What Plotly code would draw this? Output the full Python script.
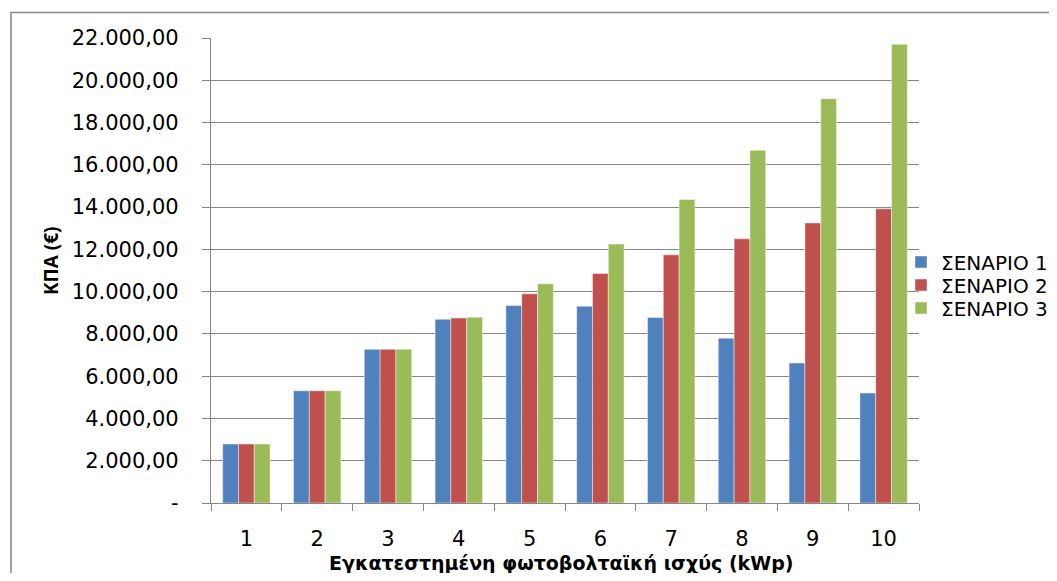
import plotly.graph_objects as go

categories = ["1", "2", "3", "4", "5", "6", "7", "8", "9", "10"]
scenario1 = [2790, 5310, 7270, 8690, 9350, 9310, 8780, 7800, 6620, 5200]
scenario2 = [2790, 5310, 7270, 8750, 9900, 10860, 11740, 12500, 13250, 13920]
scenario3 = [2790, 5310, 7270, 8790, 10370, 12250, 14360, 16690, 19130, 21700]
series_names = ["ΣΕΝΑΡΙΟ 1", "ΣΕΝΑΡΙΟ 2", "ΣΕΝΑΡΙΟ 3"]
colors = ["#4F81BD", "#C0504D", "#9BBB59"]
ytick_vals = [0, 2000, 4000, 6000, 8000, 10000, 12000, 14000, 16000, 18000, 20000, 22000]
ytick_text = ["-", "2.000,00", "4.000,00", "6.000,00", "8.000,00", "10.000,00",
              "12.000,00", "14.000,00", "16.000,00", "18.000,00", "20.000,00", "22.000,00"]
x_title = "Εγκατεστημένη φωτοβολταϊκή ισχύς (kWp)"
y_title = "ΚΠΑ (€)"

# page body has an 8px margin; compensate so the figure lands where the reference is
OFF = 8
W, H = 1057 - 2 * OFF, 581 - 2 * OFF
plot_left, plot_right, plot_top, plot_bottom = 211, 919, 38, 503
L = plot_left - OFF
T = plot_top - OFF
pw = plot_right - plot_left
ph = plot_bottom - plot_top
R = W - L - pw
B = H - T - ph

def px_x(px):
    return (px - plot_left) / pw

def px_y(py):
    return (plot_bottom - py) / ph

fig = go.Figure()
legend_keys = ["legend", "legend2", "legend3"]
legend_rows = [262, 285, 308]
for name, vals, col, lk in zip(series_names, [scenario1, scenario2, scenario3], colors, legend_keys):
    fig.add_trace(go.Bar(
        x=categories, y=vals, name=name, legend=lk,
        marker=dict(color=col, line=dict(color="rgba(255,255,255,0.45)", width=1)),
    ))

axis_gray = "#878787"
text_font = "DejaVu Sans"

legend_common = dict(
    xanchor="left", yanchor="middle",
    font=dict(family=text_font, size=20, color="black"),
    bgcolor="rgba(0,0,0,0)", itemwidth=30,
)

fig.update_layout(
    width=W, height=H,
    margin=dict(l=L, r=R, t=T, b=B, pad=0, autoexpand=False),
    paper_bgcolor="white", plot_bgcolor="white",
    barmode="group", bargap=0.33, bargroupgap=0,
    showlegend=True,
    legend=dict(x=px_x(901), y=px_y(legend_rows[0]), **legend_common),
    legend2=dict(x=px_x(901), y=px_y(legend_rows[1]), **legend_common),
    legend3=dict(x=px_x(901), y=px_y(legend_rows[2]), **legend_common),
    xaxis=dict(
        type="category", tickson="boundaries",
        showline=True, linecolor=axis_gray, linewidth=1.3,
        ticks="outside", ticklen=7, tickcolor=axis_gray, tickwidth=1.3,
        showgrid=False, ticklabelstandoff=17,
        tickfont=dict(family=text_font, size=21, color="black"),
    ),
    yaxis=dict(
        range=[0, 22000], tickvals=ytick_vals, ticktext=ytick_text,
        showline=True, linecolor=axis_gray, linewidth=1.3,
        ticks="outside", ticklen=8, tickcolor=axis_gray, tickwidth=1.3,
        showgrid=True, gridcolor=axis_gray, gridwidth=1.3,
        ticklabelstandoff=19, zeroline=False,
        tickfont=dict(family=text_font, size=21, color="black"),
    ),
    shapes=[dict(
        type="rect", xref="paper", yref="paper",
        x0=px_x(11), x1=px_x(1080), y0=px_y(620), y1=px_y(12.5),
        line=dict(color=axis_gray, width=1.5), fillcolor="rgba(0,0,0,0)", layer="below",
    )],
    annotations=[
        dict(text="<b>" + x_title + "</b>", xref="paper", yref="paper",
             x=px_x(561), y=px_y(563), xanchor="center", yanchor="middle",
             showarrow=False, font=dict(family=text_font, size=19, color="black")),
        dict(text="<b>" + y_title + "</b>", xref="paper", yref="paper",
             x=px_x(51), y=px_y(261), xanchor="center", yanchor="middle", textangle=-90,
             showarrow=False, font=dict(family="Open Sans", size=19, color="black")),
    ],
)

fig.write_html("out.html")
